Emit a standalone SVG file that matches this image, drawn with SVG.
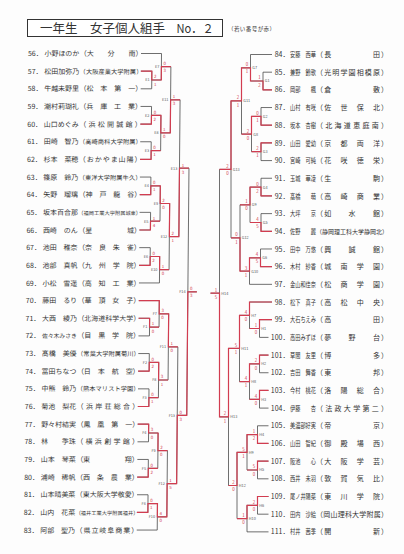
<svg xmlns="http://www.w3.org/2000/svg" width="404" height="554" viewBox="0 0 404 554">
<style>
text{font-family:"Noto Sans CJK JP","Noto Sans CJK SC",sans-serif;fill:#333}
.r{font-size:7px}
.sc{font-size:4.4px;fill:#d23c50}
.lb{font-size:3.8px;fill:#555}
.ln{fill:none;stroke:#4a4a4a;stroke-width:0.8}
.rd{fill:none;stroke:#d23c50;stroke-width:1.2}
</style>
<rect width="404" height="554" fill="#fdfdfd"/>
<g id="title">
<rect x="27.5" y="19.5" width="195" height="17" fill="#fff" stroke="#333" stroke-width="1"/>
<text x="40" y="33.2" font-size="12.5" textLength="125" lengthAdjust="spacingAndGlyphs">一年生　女子個人組手</text>
<text x="176.5" y="33.2" font-size="12" textLength="37" lengthAdjust="spacingAndGlyphs">No．２</text>
<text x="228" y="31" font-size="5.5" textLength="47" lengthAdjust="spacing">（若い番号が赤）</text>
</g>
<g id="left-players" transform="matrix(1 0 -0.009 1 0.49 0)">
<g id="p56"><text class="r" x="28" y="56.1">56．</text><text class="r" x="44.5" y="56.1" textLength="34.8" lengthAdjust="spacingAndGlyphs">小野ほのか</text><text class="r" x="79.8" y="56.1" textLength="62.7" lengthAdjust="spacing">（大　　分　　南）</text></g>
<g id="p57"><text class="r" x="28" y="73.75">57．</text><text class="r" x="44.5" y="73.75" textLength="34.8" lengthAdjust="spacingAndGlyphs">松田加弥乃</text><text x="79.8" y="73.75" style="font-size:6.2px" textLength="62.7" lengthAdjust="spacing">（大阪産業大学附属）</text></g>
<g id="p58"><text class="r" x="28" y="91.4">58．</text><text class="r" x="44.5" y="91.4" textLength="34.8" lengthAdjust="spacingAndGlyphs">牛越未野里</text><text class="r" x="79.8" y="91.4" textLength="62.7" lengthAdjust="spacing">（松　本　第　一）</text></g>
<g id="p59"><text class="r" x="28" y="109.05">59．</text><text class="r" x="44.5" y="109.05" textLength="34.8" lengthAdjust="spacingAndGlyphs">潮村莉瑚礼</text><text class="r" x="79.8" y="109.05" textLength="62.7" lengthAdjust="spacing">（兵　庫　工　業）</text></g>
<g id="p60"><text class="r" x="28" y="126.7">60．</text><text class="r" x="44.5" y="126.7" textLength="34.8" lengthAdjust="spacingAndGlyphs">山口めぐみ</text><text class="r" x="79.8" y="126.7" textLength="62.7" lengthAdjust="spacing">（浜松開誠館）</text></g>
<g id="p61"><text class="r" x="28" y="144.35">61．</text><text class="r" x="44.5" y="144.35" textLength="34.8" lengthAdjust="spacingAndGlyphs">田崎　智乃</text><text x="79.8" y="144.35" style="font-size:6.2px" textLength="62.7" lengthAdjust="spacing">（高崎商科大学附属）</text></g>
<g id="p62"><text class="r" x="28" y="162">62．</text><text class="r" x="44.5" y="162" textLength="34.8" lengthAdjust="spacingAndGlyphs">杉本　菜穂</text><text class="r" x="79.8" y="162" textLength="62.7" lengthAdjust="spacing">（おかやま山陽）</text></g>
<g id="p63"><text class="r" x="28" y="179.65">63．</text><text class="r" x="44.5" y="179.65" textLength="34.8" lengthAdjust="spacingAndGlyphs">篠原　鈴乃</text><text x="79.8" y="179.65" style="font-size:6.2px" textLength="62.7" lengthAdjust="spacing">（東洋大学附属牛久）</text></g>
<g id="p64"><text class="r" x="28" y="197.3">64．</text><text class="r" x="44.5" y="197.3" textLength="34.8" lengthAdjust="spacingAndGlyphs">矢野　瑠璃</text><text class="r" x="79.8" y="197.3" textLength="62.7" lengthAdjust="spacing">（神　戸　龍　谷）</text></g>
<g id="p65"><text class="r" x="28" y="214.95">65．</text><text class="r" x="44.5" y="214.95" textLength="34.8" lengthAdjust="spacingAndGlyphs">坂本百合那</text><text x="79.8" y="214.95" style="font-size:5.2px" textLength="62.7" lengthAdjust="spacing">（福岡工業大学附属城東）</text></g>
<g id="p66"><text class="r" x="28" y="232.6">66．</text><text class="r" x="44.5" y="232.6" textLength="34.8" lengthAdjust="spacingAndGlyphs">西崎　のん</text><text class="r" x="79.8" y="232.6" textLength="62.7" lengthAdjust="spacing">（星　　　　　城）</text></g>
<g id="p67"><text class="r" x="28" y="250.25">67．</text><text class="r" x="44.5" y="250.25" textLength="34.8" lengthAdjust="spacingAndGlyphs">池田　稚奈</text><text class="r" x="79.8" y="250.25" textLength="62.7" lengthAdjust="spacing">（奈　良　朱　雀）</text></g>
<g id="p68"><text class="r" x="28" y="267.9">68．</text><text class="r" x="44.5" y="267.9" textLength="34.8" lengthAdjust="spacingAndGlyphs">池部　真帆</text><text class="r" x="79.8" y="267.9" textLength="62.7" lengthAdjust="spacing">（九　州　学　院）</text></g>
<g id="p69"><text class="r" x="28" y="285.55">69．</text><text class="r" x="44.5" y="285.55" textLength="34.8" lengthAdjust="spacingAndGlyphs">小松　雪遥</text><text class="r" x="79.8" y="285.55" textLength="62.7" lengthAdjust="spacing">（高　知　工　業）</text></g>
<g id="p70"><text class="r" x="28" y="303.2">70．</text><text class="r" x="44.5" y="303.2" textLength="34.8" lengthAdjust="spacingAndGlyphs">藤田　るり</text><text class="r" x="79.8" y="303.2" textLength="62.7" lengthAdjust="spacing">（華　頂　女　子）</text></g>
<g id="p71"><text class="r" x="28" y="320.85">71．</text><text class="r" x="44.5" y="320.85" textLength="34.8" lengthAdjust="spacingAndGlyphs">大西　綾乃</text><text x="79.8" y="320.85" style="font-size:6.9px" textLength="62.7" lengthAdjust="spacing">（北海道科学大学）</text></g>
<g id="p72"><text class="r" x="28" y="338.5">72．</text><text x="44.5" y="338.5" style="font-size:5.8px" textLength="34.8" lengthAdjust="spacing">佐々木みさき</text><text class="r" x="79.8" y="338.5" textLength="62.7" lengthAdjust="spacing">（目　黒　学　院）</text></g>
<g id="p73"><text class="r" x="28" y="356.15">73．</text><text class="r" x="44.5" y="356.15" textLength="34.8" lengthAdjust="spacingAndGlyphs">髙橋　美優</text><text x="79.8" y="356.15" style="font-size:6.2px" textLength="62.7" lengthAdjust="spacing">（常葉大学附属菊川）</text></g>
<g id="p74"><text class="r" x="28" y="373.8">74．</text><text class="r" x="44.5" y="373.8" textLength="34.8" lengthAdjust="spacingAndGlyphs">冨田ちなつ</text><text class="r" x="79.8" y="373.8" textLength="62.7" lengthAdjust="spacing">（日　本　航　空）</text></g>
<g id="p75"><text class="r" x="28" y="391.45">75．</text><text class="r" x="44.5" y="391.45" textLength="34.8" lengthAdjust="spacingAndGlyphs">中熊　鈴乃</text><text x="79.8" y="391.45" style="font-size:6.2px" textLength="62.7" lengthAdjust="spacing">（熊本マリスト学園）</text></g>
<g id="p76"><text class="r" x="28" y="409.1">76．</text><text class="r" x="44.5" y="409.1" textLength="34.8" lengthAdjust="spacingAndGlyphs">菊池　梨花</text><text class="r" x="79.8" y="409.1" textLength="62.7" lengthAdjust="spacing">（浜岸荘総合）</text></g>
<g id="p77"><text class="r" x="28" y="426.75">77．</text><text class="r" x="44.5" y="426.75" textLength="34.8" lengthAdjust="spacingAndGlyphs">野々村結実</text><text class="r" x="79.8" y="426.75" textLength="62.7" lengthAdjust="spacing">（鳳　凰　第　一）</text></g>
<g id="p78"><text class="r" x="28" y="444.4">78．</text><text class="r" x="44.5" y="444.4" textLength="34.8" lengthAdjust="spacingAndGlyphs">林　　季珠</text><text class="r" x="79.8" y="444.4" textLength="62.7" lengthAdjust="spacing">（横浜創学館）</text></g>
<g id="p79"><text class="r" x="28" y="462.05">79．</text><text class="r" x="44.5" y="462.05" textLength="34.8" lengthAdjust="spacingAndGlyphs">山本　琴菜</text><text class="r" x="79.8" y="462.05" textLength="62.7" lengthAdjust="spacing">（東　　　　　翔）</text></g>
<g id="p80"><text class="r" x="28" y="479.7">80．</text><text class="r" x="44.5" y="479.7" textLength="34.8" lengthAdjust="spacingAndGlyphs">浦崎　稀帆</text><text class="r" x="79.8" y="479.7" textLength="62.7" lengthAdjust="spacing">（西　条　農　業）</text></g>
<g id="p81"><text class="r" x="28" y="497.35">81．</text><text class="r" x="44.5" y="497.35" textLength="34.8" lengthAdjust="spacingAndGlyphs">山本晴美菜</text><text x="79.8" y="497.35" style="font-size:6.9px" textLength="62.7" lengthAdjust="spacing">（東大阪大学敬愛）</text></g>
<g id="p82"><text class="r" x="28" y="515">82．</text><text class="r" x="44.5" y="515" textLength="34.8" lengthAdjust="spacingAndGlyphs">山内　花菜</text><text x="79.8" y="515" style="font-size:5.2px" textLength="62.7" lengthAdjust="spacing">（福井工業大学附属福井）</text></g>
<g id="p83"><text class="r" x="28" y="532.65">83．</text><text class="r" x="44.5" y="532.65" textLength="34.8" lengthAdjust="spacingAndGlyphs">阿部　聖乃</text><text class="r" x="79.8" y="532.65" textLength="62.7" lengthAdjust="spacing">（県立岐阜商業）</text></g>
</g>
<g id="right-players">
<g id="p84"><text class="r" x="274.7" y="57.1">84．</text><text class="r" transform="translate(290 57.1) scale(0.743 1)">安藤　西華</text><text class="r" x="316" y="57.1" textLength="72" lengthAdjust="spacing">（長　　　　　田）</text></g>
<g id="p85"><text class="r" x="274.7" y="74.78">85．</text><text class="r" transform="translate(290 74.78) scale(0.743 1)">兼野　鈴歌</text><text class="r" x="316" y="74.78" textLength="72" lengthAdjust="spacing">（光明学園相模原）</text></g>
<g id="p86"><text class="r" x="274.7" y="92.46">86．</text><text class="r" transform="translate(290 92.46) scale(0.743 1)">岡部　　楓</text><text class="r" x="316" y="92.46" textLength="72" lengthAdjust="spacing">（倉　　　　　敷）</text></g>
<g id="p87"><text class="r" x="274.7" y="110.14">87．</text><text class="r" transform="translate(290 110.14) scale(0.743 1)">山村　有咲</text><text class="r" x="316" y="110.14" textLength="72" lengthAdjust="spacing">（佐　世　保　北）</text></g>
<g id="p88"><text class="r" x="274.7" y="127.82">88．</text><text class="r" transform="translate(290 127.82) scale(0.743 1)">坂本　杏樹</text><text class="r" x="316" y="127.82" textLength="72" lengthAdjust="spacing">（北海道恵庭南）</text></g>
<g id="p89"><text class="r" x="274.7" y="145.5">89．</text><text class="r" transform="translate(290 145.5) scale(0.743 1)">山田　愛幼</text><text class="r" x="316" y="145.5" textLength="72" lengthAdjust="spacing">（京　都　両　洋）</text></g>
<g id="p90"><text class="r" x="274.7" y="163.18">90．</text><text class="r" transform="translate(290 163.18) scale(0.743 1)">宮崎　可純</text><text class="r" x="316" y="163.18" textLength="72" lengthAdjust="spacing">（花　咲　徳　栄）</text></g>
<g id="p91"><text class="r" x="274.7" y="180.86">91．</text><text class="r" transform="translate(290 180.86) scale(0.743 1)">玉城　華凌</text><text class="r" x="316" y="180.86" textLength="72" lengthAdjust="spacing">（生　　　　　駒）</text></g>
<g id="p92"><text class="r" x="274.7" y="198.54">92．</text><text class="r" transform="translate(290 198.54) scale(0.743 1)">髙橋　　萌</text><text class="r" x="316" y="198.54" textLength="72" lengthAdjust="spacing">（高　崎　商　業）</text></g>
<g id="p93"><text class="r" x="274.7" y="216.22">93．</text><text class="r" transform="translate(290 216.22) scale(0.743 1)">大坪　　京</text><text class="r" x="316" y="216.22" textLength="72" lengthAdjust="spacing">（如　　水　　館）</text></g>
<g id="p94"><text class="r" x="274.7" y="233.9">94．</text><text class="r" transform="translate(290 233.9) scale(0.743 1)">佐野　　麗</text><text x="316" y="233.9" style="font-size:6px" textLength="72" lengthAdjust="spacing">（静岡理工科大学静岡北）</text></g>
<g id="p95"><text class="r" x="274.7" y="251.58">95．</text><text class="r" transform="translate(290 251.58) scale(0.743 1)">田中　万悠</text><text class="r" x="316" y="251.58" textLength="72" lengthAdjust="spacing">（興　　誠　　館）</text></g>
<g id="p96"><text class="r" x="274.7" y="269.26">96．</text><text class="r" transform="translate(290 269.26) scale(0.743 1)">木村　紗香</text><text class="r" x="316" y="269.26" textLength="72" lengthAdjust="spacing">（城　南　学　園）</text></g>
<g id="p97"><text class="r" x="274.7" y="286.94">97．</text><text class="r" transform="translate(290 286.94) scale(0.743 1)">金山和佳奈</text><text class="r" x="316" y="286.94" textLength="72" lengthAdjust="spacing">（松　商　学　園）</text></g>
<g id="p98"><text class="r" x="274.7" y="304.62">98．</text><text class="r" transform="translate(290 304.62) scale(0.743 1)">松下　真子</text><text class="r" x="316" y="304.62" textLength="72" lengthAdjust="spacing">（高　松　中　央）</text></g>
<g id="p99"><text class="r" x="274.7" y="322.3">99．</text><text class="r" transform="translate(290 322.3) scale(0.743 1)">大石ちえみ</text><text class="r" x="316" y="322.3" textLength="72" lengthAdjust="spacing">（高　　　　　田）</text></g>
<g id="p100"><text class="r" x="270.8" y="339.98">100．</text><text class="r" transform="translate(290 339.98) scale(0.743 1)">高田みずほ</text><text class="r" x="316" y="339.98" textLength="72" lengthAdjust="spacing">（夢　　野　　台）</text></g>
<g id="p101"><text class="r" x="270.8" y="357.66">101．</text><text class="r" transform="translate(290 357.66) scale(0.743 1)">草間　友里</text><text class="r" x="316" y="357.66" textLength="72" lengthAdjust="spacing">（博　　　　　多）</text></g>
<g id="p102"><text class="r" x="270.8" y="375.34">102．</text><text class="r" transform="translate(290 375.34) scale(0.743 1)">吉田　舞香</text><text class="r" x="316" y="375.34" textLength="72" lengthAdjust="spacing">（東　　　　　邦）</text></g>
<g id="p103"><text class="r" x="270.8" y="393.02">103．</text><text class="r" transform="translate(290 393.02) scale(0.743 1)">今村　桃花</text><text class="r" x="316" y="393.02" textLength="72" lengthAdjust="spacing">（洛　陽　総　合）</text></g>
<g id="p104"><text class="r" x="270.8" y="410.7">104．</text><text class="r" transform="translate(290 410.7) scale(0.743 1)">伊藤　　杏</text><text class="r" x="316" y="410.7" textLength="72" lengthAdjust="spacing">（法政大学第二）</text></g>
<g id="p105"><text class="r" x="270.8" y="428.38">105．</text><text class="r" transform="translate(290 428.38) scale(0.743 1)">美濃部好実</text><text class="r" x="316" y="428.38" textLength="72" lengthAdjust="spacing">（帝　　　　　京）</text></g>
<g id="p106"><text class="r" x="270.8" y="446.06">106．</text><text class="r" transform="translate(290 446.06) scale(0.743 1)">山田　智紀</text><text class="r" x="316" y="446.06" textLength="72" lengthAdjust="spacing">（御　殿　場　西）</text></g>
<g id="p107"><text class="r" x="270.8" y="463.74">107．</text><text class="r" transform="translate(290 463.74) scale(0.743 1)">阪池　　心</text><text class="r" x="316" y="463.74" textLength="72" lengthAdjust="spacing">（大　阪　学　芸）</text></g>
<g id="p108"><text class="r" x="270.8" y="481.42">108．</text><text class="r" transform="translate(290 481.42) scale(0.743 1)">西井　未羽</text><text class="r" x="316" y="481.42" textLength="72" lengthAdjust="spacing">（敦　賀　気　比）</text></g>
<g id="p109"><text class="r" x="270.8" y="499.1">109．</text><text class="r" transform="translate(290 499.1) scale(0.743 1)">尾ノ井陽菜</text><text class="r" x="316" y="499.1" textLength="72" lengthAdjust="spacing">（東　川　学　院）</text></g>
<g id="p110"><text class="r" x="270.8" y="516.78">110．</text><text class="r" transform="translate(290 516.78) scale(0.743 1)">田内　沙絵</text><text class="r" x="316" y="516.78" textLength="72" lengthAdjust="spacing">（岡山理科大学附属）</text></g>
<g id="p111"><text class="r" x="270.8" y="534.46">111．</text><text class="r" transform="translate(290 534.46) scale(0.743 1)">村井　茜季</text><text class="r" x="316" y="534.46" textLength="72" lengthAdjust="spacing">（開　　　　　新）</text></g>
</g>
<g id="connectors">
<g id="left-bracket" transform="matrix(1 0 -0.009 1 0.49 0)">
<path class="ln" d="M141,53.5H161.5 M141,71.15H152 M141,88.8H152 M141,106.45H152 M141,124.1H152 M141,141.75H152 M141,159.4H152 M141,177.05H152 M141,194.7H152 M141,212.35H152 M141,230H152 M141,247.65H152 M141,265.3H152 M141,282.95H161.5 M141,300.6H161.5 M141,318.25H152 M141,335.9H152 M141,353.55H152 M141,371.2H152 M141,388.85H152 M141,406.5H152 M141,424.15H152 M141,441.8H152 M141,459.45H152 M141,477.1H152 M141,494.75H152 M141,512.4H152 M141,530.05H161.5
M152,71.15V88.8 M152,80H161.5 M161.5,53.5V80 M161.5,66.7H171 M152,106.45V124.1 M152,115.3H161.5 M152,141.75V159.4 M152,150.6H161.5 M161.5,115.3V150.6 M161.5,132.9H171 M171,66.7V132.9 M171,99.8H180.5 M152,177.05V194.7 M152,185.9H161.5 M152,212.35V230 M152,221.2H161.5 M161.5,185.9V221.2 M161.5,203.5H171 M152,247.65V265.3 M152,256.5H161.5 M161.5,256.5V282.95 M161.5,269.7H171 M171,203.5V269.7 M171,236.6H180.5 M180.5,99.8V236.6 M180.5,168.2H190
M152,318.25V335.9 M152,327.1H161.5 M161.5,300.6V327.1 M161.5,313.8H171 M152,353.55V371.2 M152,362.4H161.5 M152,388.85V406.5 M152,397.7H161.5 M161.5,362.4V397.7 M161.5,380H171 M171,313.8V380 M171,346.9H180.5 M152,424.15V441.8 M152,433H161.5 M152,459.45V477.1 M152,468.3H161.5 M161.5,433V468.3 M161.5,450.6H171 M152,494.75V512.4 M152,503.6H161.5 M161.5,503.6V530.05 M161.5,516.8H171 M171,450.6V516.8 M171,483.7H180.5 M180.5,346.9V483.7 M180.5,415.3H190 M190,168.2V415.3 M190,291.8H199"/>
<path class="rd" d="M141,71.15H152V80H161.5V66.7H171 M141,124.1H152V115.3H161.5V132.9H171V99.8H180.5 M141,159.4H152V150.6H161.5 M141,194.7H152V185.9H161.5V203.5H171V236.6H180.5V168.2H190 M141,230H152V221.2H161.5 M141,265.3H152V256.5H161.5V269.7H171 M141,318.25H152V327.1H161.5 M141,300.6H161.5V313.8H171V346.9H180.5 M141,371.2H152V362.4H161.5V380H171 M141,406.5H152V397.7H161.5 M141,424.15H152V433H161.5V450.6H171 M141,477.1H152V468.3H161.5 M141,512.4H152V503.6H161.5V516.8H171V483.7H180.5V415.3H190V291.8H199"/>
<g id="left-labels">
<text class="lb" x="145.6" y="81.4">E1</text><text class="lb" x="155.1" y="68.1">E7</text><text class="lb" x="145.6" y="116.7">E2</text><text class="lb" x="145.6" y="152">E3</text><text class="lb" x="155.1" y="134.3">E8</text><text class="lb" x="162.4" y="101.2">E11</text><text class="lb" x="145.6" y="187.3">E4</text><text class="lb" x="145.6" y="222.6">E5</text><text class="lb" x="155.1" y="204.9">E9</text><text class="lb" x="145.6" y="257.9">E6</text><text class="lb" x="152.9" y="271.1">E10</text><text class="lb" x="162.4" y="238">E12</text><text class="lb" x="171.9" y="169.6">E13</text>
<text class="lb" x="145.6" y="328.5">F1</text><text class="lb" x="155.1" y="315.2">F7</text><text class="lb" x="145.6" y="363.8">F2</text><text class="lb" x="145.6" y="399.1">F3</text><text class="lb" x="155.1" y="381.4">F8</text><text class="lb" x="162.4" y="348.3">F11</text><text class="lb" x="145.6" y="434.4">F4</text><text class="lb" x="145.6" y="469.7">F5</text><text class="lb" x="155.1" y="452">F9</text><text class="lb" x="145.6" y="505">F6</text><text class="lb" x="152.9" y="518.2">F10</text><text class="lb" x="162.4" y="485.1">F12</text><text class="lb" x="171.9" y="416.7">F13</text><text class="lb" x="181.4" y="293.2">F14</text>
</g>
<g id="left-scores">
<text class="sc" x="154.2" y="78.4">2</text><text class="sc" x="154.2" y="85.6">1</text>
<text class="sc" x="163.7" y="65.1">0</text><text class="sc" x="163.7" y="72.3">3</text>
<text class="sc" x="154.2" y="113.7">0</text><text class="sc" x="154.2" y="120.9">2</text>
<text class="sc" x="154.2" y="149">0</text><text class="sc" x="154.2" y="156.2">1</text>
<text class="sc" x="163.7" y="131.3">1</text><text class="sc" x="163.7" y="138.5">0</text>
<text class="sc" x="173.2" y="98.2">1</text><text class="sc" x="173.2" y="105.4">3</text>
<text class="sc" x="154.2" y="184.3">0</text><text class="sc" x="154.2" y="191.5">1</text>
<text class="sc" x="154.2" y="219.6">1</text><text class="sc" x="154.2" y="226.8">4</text>
<text class="sc" x="163.7" y="201.9">2</text><text class="sc" x="163.7" y="209.1">0</text>
<text class="sc" x="154.2" y="254.9">0</text><text class="sc" x="154.2" y="262.1">2</text>
<text class="sc" x="163.7" y="268.1">1</text><text class="sc" x="163.7" y="275.3">0</text>
<text class="sc" x="173.2" y="235">2</text><text class="sc" x="173.2" y="242.2">1</text>
<text class="sc" x="182.7" y="166.6">1</text><text class="sc" x="182.7" y="173.8">3</text>
<text class="sc" x="154.2" y="325.5">1</text><text class="sc" x="154.2" y="332.7">0</text>
<text class="sc" x="163.7" y="312.2">3</text><text class="sc" x="163.7" y="319.4">0</text>
<text class="sc" x="154.2" y="360.8">0</text><text class="sc" x="154.2" y="368">2</text>
<text class="sc" x="154.2" y="396.1">0</text><text class="sc" x="154.2" y="403.3">1</text>
<text class="sc" x="163.7" y="378.4">3</text><text class="sc" x="163.7" y="385.6">1</text>
<text class="sc" x="173.2" y="345.3">1</text><text class="sc" x="173.2" y="352.5">0</text>
<text class="sc" x="154.2" y="431.4">3</text><text class="sc" x="154.2" y="438.6">0</text>
<text class="sc" x="154.2" y="466.7">0</text><text class="sc" x="154.2" y="473.9">2</text>
<text class="sc" x="163.7" y="449">2</text><text class="sc" x="163.7" y="456.2">0</text>
<text class="sc" x="154.2" y="502">0</text><text class="sc" x="154.2" y="509.2">1</text>
<text class="sc" x="163.7" y="515.2">4</text><text class="sc" x="163.7" y="522.4">0</text>
<text class="sc" x="173.2" y="482.1">1</text><text class="sc" x="173.2" y="489.3">5</text>
<text class="sc" x="182.7" y="413.7">0</text><text class="sc" x="182.7" y="420.9">3</text>
<text class="sc" x="192.2" y="290.2">0</text><text class="sc" x="192.2" y="297.4">3</text>
</g>
</g>
<g id="right-bracket">
<path class="ln" d="M272,54.5H250.5 M272,72.18H263 M272,89.86H263 M272,107.54H261 M272,125.22H261 M272,142.9H261 M272,160.58H261 M272,178.26H261 M272,195.94H261 M272,213.62H261 M272,231.3H261 M272,248.98H260.5 M272,266.66H260.5 M272,284.34H249.5 M272,302.02H249.5 M272,319.7H259.5 M268.5,337.38H259.5 M268.5,355.06H259.5 M268.5,372.74H259.5 M268.5,390.42H259.5 M268.5,408.1H259.5 M268.5,425.78H257.5 M268.5,443.46H257.5 M268.5,461.14H257.5 M268.5,478.82H257.5 M268.5,496.5H257.5 M268.5,514.18H257.5 M268.5,531.86H247
M263,72.18V89.86 M263,81H250.5 M250.5,54.5V81 M250.5,67.8H241.5 M261,107.54V125.22 M261,116.4H251.5 M261,142.9V160.58 M261,151.7H251.5 M251.5,116.4V151.7 M251.5,134.1H241.5 M241.5,67.8V134.1 M241.5,100.9H231 M261,178.26V195.94 M261,187.1H250 M261,213.62V231.3 M261,222.5H250 M250,187.1V222.5 M250,204.8H240 M260.5,248.98V266.66 M260.5,257.8H249.5 M249.5,257.8V284.34 M249.5,271.1H240 M240,204.8V271.1 M240,237.9H231 M231,100.9V237.9 M231,169.4H219.5
M259.5,319.7V337.38 M259.5,328.5H249.5 M249.5,302.02V328.5 M249.5,315.3H239.5 M259.5,355.06V372.74 M259.5,363.9H249.5 M259.5,390.42V408.1 M259.5,399.3H249.5 M249.5,363.9V399.3 M249.5,381.6H239.5 M239.5,315.3V381.6 M239.5,348.4H228.5 M257.5,425.78V443.46 M257.5,434.6H247 M257.5,461.14V478.82 M257.5,470H247 M247,434.6V470 M247,452.3H237 M257.5,496.5V514.18 M257.5,505.3H247 M247,505.3V531.86 M247,518.6H237 M237,452.3V518.6 M237,485.5H228.5 M228.5,348.4V485.5 M228.5,416.9H219.5 M219.5,169.4V416.9 M219.5,293.2H210.5"/>
<path class="rd" d="M272,89.86H263V81H250.5V67.8H241.5V100.9H231V169.4H219.5 M272,125.22H261V116.4H251.5V134.1H241.5 M272,142.9H261V151.7H251.5 M272,195.94H261V187.1H250V204.8H240 M272,231.3H261V222.5H250 M272,266.66H260.5V257.8H249.5V271.1H240V237.9H231 M272,302.02H249.5V315.3H239.5V348.4H228.5V416.9H219.5V293.2H210.5 M272,319.7H259.5V328.5H249.5 M268.5,355.06H259.5V363.9H249.5V381.6H239.5 M268.5,390.42H259.5V399.3H249.5 M268.5,443.46H257.5V434.6H247V452.3H237V485.5H228.5 M268.5,461.14H257.5V470H247 M268.5,496.5H257.5V505.3H247V518.6H237"/>
<g id="right-labels">
<text class="lb" x="264.8" y="82.4">G1</text><text class="lb" x="252.3" y="69.2">G7</text><text class="lb" x="262.8" y="117.8">G2</text><text class="lb" x="262.8" y="153.1">G3</text><text class="lb" x="253.3" y="135.5">G8</text><text class="lb" x="243.3" y="102.3">G11</text><text class="lb" x="262.8" y="188.5">G4</text><text class="lb" x="262.8" y="223.9">G5</text><text class="lb" x="251.8" y="206.2">G9</text><text class="lb" x="262.3" y="259.2">G6</text><text class="lb" x="251.3" y="272.5">G10</text><text class="lb" x="241.8" y="239.3">G12</text><text class="lb" x="232.8" y="170.8">G13</text>
<text class="lb" x="261.3" y="329.9">H1</text><text class="lb" x="251.3" y="316.7">H7</text><text class="lb" x="261.3" y="365.3">H2</text><text class="lb" x="261.3" y="400.7">H3</text><text class="lb" x="251.3" y="383">H8</text><text class="lb" x="241.3" y="349.8">H11</text><text class="lb" x="259.3" y="436">H4</text><text class="lb" x="259.3" y="471.4">H5</text><text class="lb" x="248.8" y="453.7">H9</text><text class="lb" x="259.3" y="506.7">H6</text><text class="lb" x="248.8" y="520">H10</text><text class="lb" x="238.8" y="486.9">H12</text><text class="lb" x="230.3" y="418.3">H13</text><text class="lb" x="221.3" y="294.6">H14</text>
</g>
<g id="right-scores">
<text class="sc" x="258.3" y="79.4">1</text><text class="sc" x="258.3" y="86.6">2</text>
<text class="sc" x="245.8" y="66.2">0</text><text class="sc" x="245.8" y="73.4">1</text>
<text class="sc" x="256.3" y="114.8">0</text><text class="sc" x="256.3" y="122">1</text>
<text class="sc" x="256.3" y="150.1">2</text><text class="sc" x="256.3" y="157.3">1</text>
<text class="sc" x="246.8" y="132.5">2</text><text class="sc" x="246.8" y="139.7">0</text>
<text class="sc" x="236.8" y="99.3">2</text><text class="sc" x="236.8" y="106.5">1</text>
<text class="sc" x="256.3" y="185.5">0</text><text class="sc" x="256.3" y="192.7">2</text>
<text class="sc" x="256.3" y="220.9">4</text><text class="sc" x="256.3" y="228.1">5</text>
<text class="sc" x="245.3" y="203.2">1</text><text class="sc" x="245.3" y="210.4">0</text>
<text class="sc" x="255.8" y="256.2">4</text><text class="sc" x="255.8" y="263.4">5</text>
<text class="sc" x="244.8" y="269.5">3</text><text class="sc" x="244.8" y="276.7">1</text>
<text class="sc" x="235.3" y="236.3">0</text><text class="sc" x="235.3" y="243.5">1</text>
<text class="sc" x="226.3" y="167.8">2</text><text class="sc" x="226.3" y="175">0</text>
<text class="sc" x="254.8" y="326.9">1</text><text class="sc" x="254.8" y="334.1">0</text>
<text class="sc" x="244.8" y="313.7">4</text><text class="sc" x="244.8" y="320.9">0</text>
<text class="sc" x="254.8" y="362.3">2</text><text class="sc" x="254.8" y="369.5">0</text>
<text class="sc" x="254.8" y="397.7">4</text><text class="sc" x="254.8" y="404.9">0</text>
<text class="sc" x="244.8" y="380">4</text><text class="sc" x="244.8" y="387.2">1</text>
<text class="sc" x="234.8" y="346.8">5</text><text class="sc" x="234.8" y="354">1</text>
<text class="sc" x="252.8" y="433">1</text><text class="sc" x="252.8" y="440.2">2</text>
<text class="sc" x="252.8" y="468.4">5</text><text class="sc" x="252.8" y="475.6">0</text>
<text class="sc" x="242.3" y="450.7">5</text><text class="sc" x="242.3" y="457.9">1</text>
<text class="sc" x="252.8" y="503.7">2</text><text class="sc" x="252.8" y="510.9">0</text>
<text class="sc" x="242.3" y="517">1</text><text class="sc" x="242.3" y="524.2">0</text>
<text class="sc" x="232.3" y="483.9">2</text><text class="sc" x="232.3" y="491.1">0</text>
<text class="sc" x="223.8" y="415.3">2</text><text class="sc" x="223.8" y="422.5">1</text>
<text class="sc" x="214.8" y="291.6">1</text><text class="sc" x="214.8" y="298.8">5</text>
</g>
</g>
</g>
</svg>
